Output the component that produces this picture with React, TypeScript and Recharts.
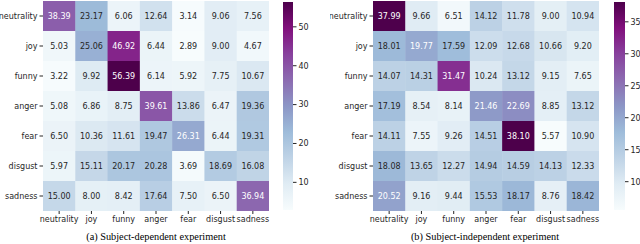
import { ScatterChart, Scatter, XAxis, YAxis, ComposedChart, ReferenceArea } from 'recharts'

const emotions = ['neutrality', 'joy', 'funny', 'anger', 'fear', 'disgust', 'sadness']

// rows = true label, cols = predicted label
const dependent = [
  [38.39, 23.17, 6.06, 12.64, 3.14, 9.06, 7.56],
  [5.03, 25.06, 46.92, 6.44, 2.89, 9.0, 4.67],
  [3.22, 9.92, 56.39, 6.14, 5.92, 7.75, 10.67],
  [5.08, 6.86, 8.75, 39.61, 13.86, 6.47, 19.36],
  [6.5, 10.36, 11.61, 19.47, 26.31, 6.44, 19.31],
  [5.97, 15.11, 20.17, 20.28, 3.69, 18.69, 16.08],
  [15.0, 8.0, 8.42, 17.64, 7.5, 6.5, 36.94],
]

const independent = [
  [37.99, 9.66, 6.51, 14.12, 11.78, 9.0, 10.94],
  [18.01, 19.77, 17.59, 12.09, 12.68, 10.66, 9.2],
  [14.07, 14.31, 31.47, 10.24, 13.12, 9.15, 7.65],
  [17.19, 8.54, 8.14, 21.46, 22.69, 8.85, 13.12],
  [14.11, 7.55, 9.26, 14.51, 38.1, 5.57, 10.9],
  [18.08, 13.65, 12.27, 14.94, 14.59, 14.13, 12.33],
  [20.52, 9.16, 9.44, 15.53, 18.17, 8.76, 18.42],
]

const depTicks = [10, 20, 30, 40, 50]
const indTicks = [10, 15, 20, 25, 30, 35]
const captions = ['(a) Subject-dependent experiment', '(b) Subject-independent experiment']

// matplotlib BuPu
const BUPU = [
  [247, 252, 253], [224, 236, 244], [191, 211, 230], [158, 188, 218],
  [140, 150, 198], [140, 107, 177], [136, 65, 157], [129, 15, 124], [77, 0, 75],
]

const colorAt = (t: number) => {
  const p = Math.max(0, Math.min(1, t)) * (BUPU.length - 1)
  const i = Math.min(Math.floor(p), BUPU.length - 2)
  const f = p - i
  return BUPU[i].map((c, k) => c + (BUPU[i + 1][k] - c) * f)
}

const toHex = (rgb: number[]) => '#' + rgb.map(c => Math.round(c).toString(16).padStart(2, '0')).join('')

const luminance = (rgb: number[]) => {
  const lin = rgb.map(c => {
    const s = c / 255
    return s <= 0.03928 ? s / 12.92 : Math.pow((s + 0.055) / 1.055, 2.4)
  })
  return 0.2126 * lin[0] + 0.7152 * lin[1] + 0.0722 * lin[2]
}

const INK = '#262626'
const FONT = "'DejaVu Sans', sans-serif"
const tickStyle = { fontSize: 8, fill: INK, fontFamily: FONT }
const idx = [0, 1, 2, 3, 4, 5, 6]

function Heatmap({ matrix, left }: { matrix: number[][]; left: number }) {
  const flat = matrix.flat()
  const min = Math.min(...flat)
  const max = Math.max(...flat)
  const pts = matrix.flatMap((row, r) => row.map((v, c) => ({ x: c, y: r, v })))
  const W = 275, H = 230, yW = 43, xH = 19
  const cw = (W - yW - 6) / 7
  const ch = (H - 1 - xH) / 7

  const Cell = (p: any) => {
    const rgb = colorAt((p.payload.v - min) / (max - min))
    const txt = luminance(rgb) > 0.408 ? INK : '#ffffff'
    return (
      <g>
        <rect x={p.cx - cw / 2} y={p.cy - ch / 2} width={cw + 0.5} height={ch + 0.5} fill={toHex(rgb)} />
        <text x={p.cx} y={p.cy} textAnchor="middle" dominantBaseline="central" fontSize={8} fontFamily={FONT} fill={txt}>
          {p.payload.v.toFixed(2)}
        </text>
      </g>
    )
  }

  return (
    <div style={{ position: 'absolute', left, top: 0 }}>
      <ScatterChart width={W} height={H} margin={{ top: 1, right: 6, bottom: 0, left: 0 }}>
        <XAxis type="number" dataKey="x" domain={[-0.5, 6.5]} allowDataOverflow ticks={idx} interval={0}
          tickFormatter={(i: number) => emotions[i]} axisLine={false} tickSize={3} tickMargin={2} height={xH}
          tick={tickStyle} tickLine={{ stroke: INK }} />
        <YAxis type="number" dataKey="y" domain={[-0.5, 6.5]} allowDataOverflow reversed ticks={idx} interval={0}
          tickFormatter={(i: number) => emotions[i]} axisLine={false} tickSize={3.5} tickMargin={2} width={yW}
          tick={tickStyle} tickLine={{ stroke: INK }} />
        <Scatter data={pts} isAnimationActive={false} shape={Cell} />
      </ScatterChart>
    </div>
  )
}

function ColorBar({ matrix, ticks, left, barW, id }: { matrix: number[][]; ticks: number[]; left: number; barW: number; id: string }) {
  const flat = matrix.flat()
  const min = Math.min(...flat)
  const max = Math.max(...flat)
  return (
    <div style={{ position: 'absolute', left, top: 0 }}>
      <ComposedChart width={barW + 25} height={210} data={[{ x: 0 }]} margin={{ top: 2, right: 0, bottom: 0, left: 0 }}>
        <defs>
          <linearGradient id={id} x1="0" y1="1" x2="0" y2="0">
            {BUPU.map((c, i) => (
              <stop key={i} offset={i / (BUPU.length - 1)} stopColor={toHex(c)} />
            ))}
          </linearGradient>
        </defs>
        <XAxis dataKey="x" hide />
        <YAxis orientation="right" type="number" domain={[min, max]} allowDataOverflow ticks={ticks} width={25}
          axisLine={false} tickSize={3.5} tickMargin={2} tick={tickStyle} tickLine={{ stroke: INK }} />
        <ReferenceArea y1={min} y2={max} fill={`url(#${id})`} fillOpacity={1} stroke="none" ifOverflow="visible" />
      </ComposedChart>
    </div>
  )
}

export default function App() {
  const capStyle = {
    position: 'absolute' as const, top: 231, fontFamily: "'Liberation Serif', serif", fontSize: 10.3,
    color: '#000', whiteSpace: 'nowrap' as const, transform: 'translateX(-50%)',
  }
  return (
    <div style={{ position: 'relative', width: 640, height: 244, background: '#fff', overflow: 'hidden' }}>
      <style>{'body{margin:0}'}</style>
      <Heatmap matrix={dependent} left={0} />
      <ColorBar matrix={dependent} ticks={depTicks} left={283} barW={10} id="cbA" />
      <Heatmap matrix={independent} left={330} />
      <ColorBar matrix={independent} ticks={indTicks} left={614} barW={11} id="cbB" />
      <div style={{ ...capStyle, left: 156 }}>{captions[0]}</div>
      <div style={{ ...capStyle, left: 485 }}>{captions[1]}</div>
    </div>
  )
}
